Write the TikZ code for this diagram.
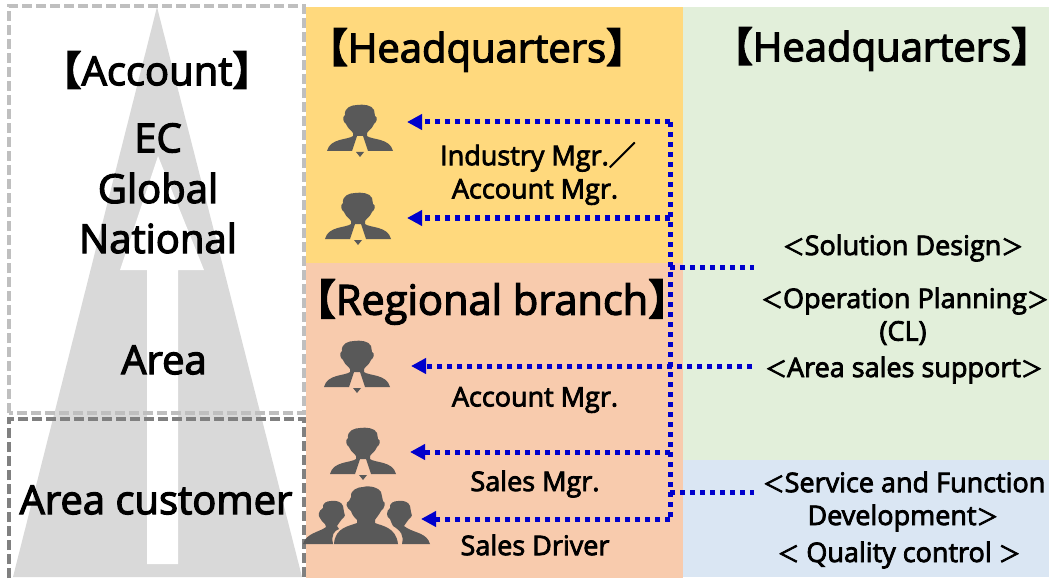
\documentclass[tikz,border=0pt]{standalone}
\usepackage{fontspec}
\setmainfont{Open Sans}
\newfontfamily\cjkf{Noto Sans CJK JP}[BoldFont={Noto Sans CJK JP Bold}]
\usetikzlibrary{arrows.meta}
\newcommand{\lb}{{\cjkf\bfseries 【}}
\newcommand{\rb}{{\cjkf\bfseries 】}}
\newcommand{\la}{{\fontsize{22}{22}\cjkf ＜}}
\newcommand{\ra}{{\fontsize{22}{22}\cjkf ＞}}
\newcommand{\sla}{{\cjkf ／}}
\definecolor{yellowp}{HTML}{FFD97D}
\definecolor{salmonp}{HTML}{F8CBAD}
\definecolor{greenp}{HTML}{E2EFDA}
\definecolor{bluep}{HTML}{DAE6F3}
\definecolor{pyramid}{HTML}{D9D9D9}
\definecolor{iconc}{HTML}{595959}
\definecolor{linkc}{HTML}{0000CC}
\tikzset{
  x=1pt,y=-1pt,
  heavy/.style={execute at begin node={\special{pdf:code 2 Tr #1 w 0 0 0 RG}},
                execute at end node={\special{pdf:code 0 Tr}}},
  big/.style={font=\fontsize{40}{40}\selectfont,inner sep=0pt,text=black,heavy=1.2},
  lbl/.style={font=\fontsize{27}{27}\selectfont,inner sep=0pt,text=black,heavy=0.8},
  link/.style={draw=linkc,line width=5pt,dash pattern=on 5pt off 5pt},
  linkarrow/.style={link,-{Triangle[length=15pt,width=15pt]}},
  oldbox/.style={draw=#1,line width=3.5pt,dash pattern=on 10pt off 4pt},
  person/.pic={
    \fill[iconc] (-15,10) .. controls (-16,3) and (-9,0) .. (-3,0)
      .. controls (3,-1) and (12,0) .. (14,5) -- (15,11)
      .. controls (18,12) and (17,17) .. (14,19)
      .. controls (12,24) and (8,26) .. (7,28) -- (7,31)
      .. controls (12,35) and (30,33) .. (33,46)
      -- (8,46) -- (6,40) -- (3,31) -- (-3,31) -- (-6,40) -- (-8,46) -- (-33,46)
      .. controls (-30,33) and (-12,35) .. (-7,31) -- (-7,28)
      .. controls (-8,26) and (-12,24) .. (-14,19)
      .. controls (-17,17) and (-18,12) .. (-15,10) -- cycle;
    \fill[iconc] (-4,47) -- (4,47) -- (0,52) -- cycle;
  },
}
\begin{document}
\begin{tikzpicture}
\useasboundingbox (0,0) rectangle (1049,580);
\fill[white] (0,0) rectangle (1049,580);
% panels
\fill[yellowp] (306,7) rectangle (683,263);
\fill[salmonp] (306,263) rectangle (683,578);
\fill[greenp] (683,7) rectangle (1049,460);
\fill[bluep] (683,460) rectangle (1049,577);
% pyramid and arrow
\fill[pyramid] (157,7) -- (302,577) -- (13,577) -- cycle;
\fill[white] (158,156) -- (204,270) -- (178,270) -- (178,564) -- (147,564) -- (147,270) -- (120,270) -- cycle;
\draw[oldbox=black!25] (9,413) rectangle (304,6);
\draw[oldbox=black!50] (9,578) -- (9,419) -- (304,419) -- (304,578);
% icons
\pic at (360,105) {person};
\pic at (358,193) {person};
\pic at (357,341) {person};
\pic at (363,428) {person};
% group icon
\fill[iconc] (351,497) .. controls (350,490) and (358,487) .. (363,487)
  .. controls (370,485) and (379,488) .. (381,492) -- (383,501)
  .. controls (386,502) and (385,508) .. (381,511)
  .. controls (379,515) and (376,518) .. (375,520) -- (375,523)
  .. controls (382,526) and (396,527) .. (398,544) -- (334,544)
  .. controls (335,527) and (350,526) .. (357,523) -- (357,520)
  .. controls (355,518) and (352,515) .. (351,511)
  .. controls (346,508) and (345,502) .. (349,501) -- cycle;
\fill[iconc] (323,508) .. controls (322,503) and (327,501) .. (331,501)
  .. controls (336,500) and (342,502) .. (343,506) -- (344,512)
  .. controls (346,514) and (345,517) .. (342,519)
  .. controls (340,522) and (338,524) .. (337,526) -- (339,529)
  .. controls (334,531) and (331,535) .. (333,544) -- (303,544)
  .. controls (306,533) and (320,532) .. (326,527) -- (325,524)
  .. controls (323,522) and (321,521) .. (320,518)
  .. controls (318,516) and (318,511) .. (323,508) -- cycle;
\fill[iconc] (390,508) .. controls (389,503) and (394,501) .. (398,501)
  .. controls (403,500) and (409,502) .. (410,506) -- (411,512)
  .. controls (413,514) and (412,517) .. (409,519)
  .. controls (407,522) and (405,524) .. (404,526) -- (407,528)
  .. controls (415,533) and (427,533) .. (430,544) -- (402,544)
  .. controls (404,535) and (401,531) .. (393,526)
  .. controls (392,524) and (391,522) .. (390,519)
  .. controls (386,517) and (386,511) .. (390,508) -- cycle;
% connector points
\coordinate (top) at (670,122);
\coordinate (bottom) at (670,519);
\coordinate (j1) at (670,218);
\coordinate (j2) at (670,267);
\coordinate (j3) at (670,452);
\coordinate (j4) at (670,492);
\coordinate (t1) at (407,122);
\coordinate (t2) at (407,218);
\coordinate (t3) at (411,366);
\coordinate (t4) at (410,452);
\coordinate (t5) at (421,519);
\coordinate (s1) at (754,267);
\coordinate (s2) at (752,366);
\coordinate (s3) at (754,492);
\draw[link] (top) -- (bottom);
\draw[linkarrow] (top) -- (t1);
\draw[linkarrow] (j1) -- (t2);
\draw[linkarrow] (s2) -- (t3);
\draw[linkarrow] (j3) -- (t4);
\draw[linkarrow] (bottom) -- (t5);
\draw[link] (j2) -- (s1);
\draw[link] (j4) -- (s3);
% left texts
\node[big] (account) at (157,70) {\lb Account\rb};
\node[big] (ec) at (158,138) {EC};
\node[big] (global) at (158,188) {Global};
\node[big] (national) at (158,238) {National};
\node[big] (area) at (164,360) {Area};
\node[big] (areacust) at (156,500) {Area customer};
% panel headings
\node[big] (hq1) at (477,50) {\lb Headquarters\rb};
\node[big] (hq2) at (882,49) {\lb Headquarters\rb};
\node[big,font=\fontsize{41.5}{41.5}\selectfont] (rb) at (492,302) {\lb Regional branch\rb};
% labels
\node[lbl] (im) at (538,157) {Industry Mgr.\sla};
\node[lbl] (am1) at (535,192) {Account Mgr.};
\node[lbl] (am2) at (535,400) {Account Mgr.};
\node[lbl] (sm) at (535,484) {Sales Mgr.};
\node[lbl] (sd) at (535,545) {Sales Driver};
\node[lbl] (sol) at (903,248) {\la Solution Design\ra};
\node[lbl] (op) at (905,301) {\la Operation Planning\ra};
\node[lbl] (cl) at (903,333) {(CL)};
\node[lbl] (sup) at (904,370) {\la Area sales support\ra};
\node[lbl] (svc) at (904,482) {\la Service and Function};
\node[lbl] (dev) at (903,518) {Development\ra};
\node[lbl] (qc) at (899,555) {\la{} Quality control \ra};
\end{tikzpicture}
\end{document}
